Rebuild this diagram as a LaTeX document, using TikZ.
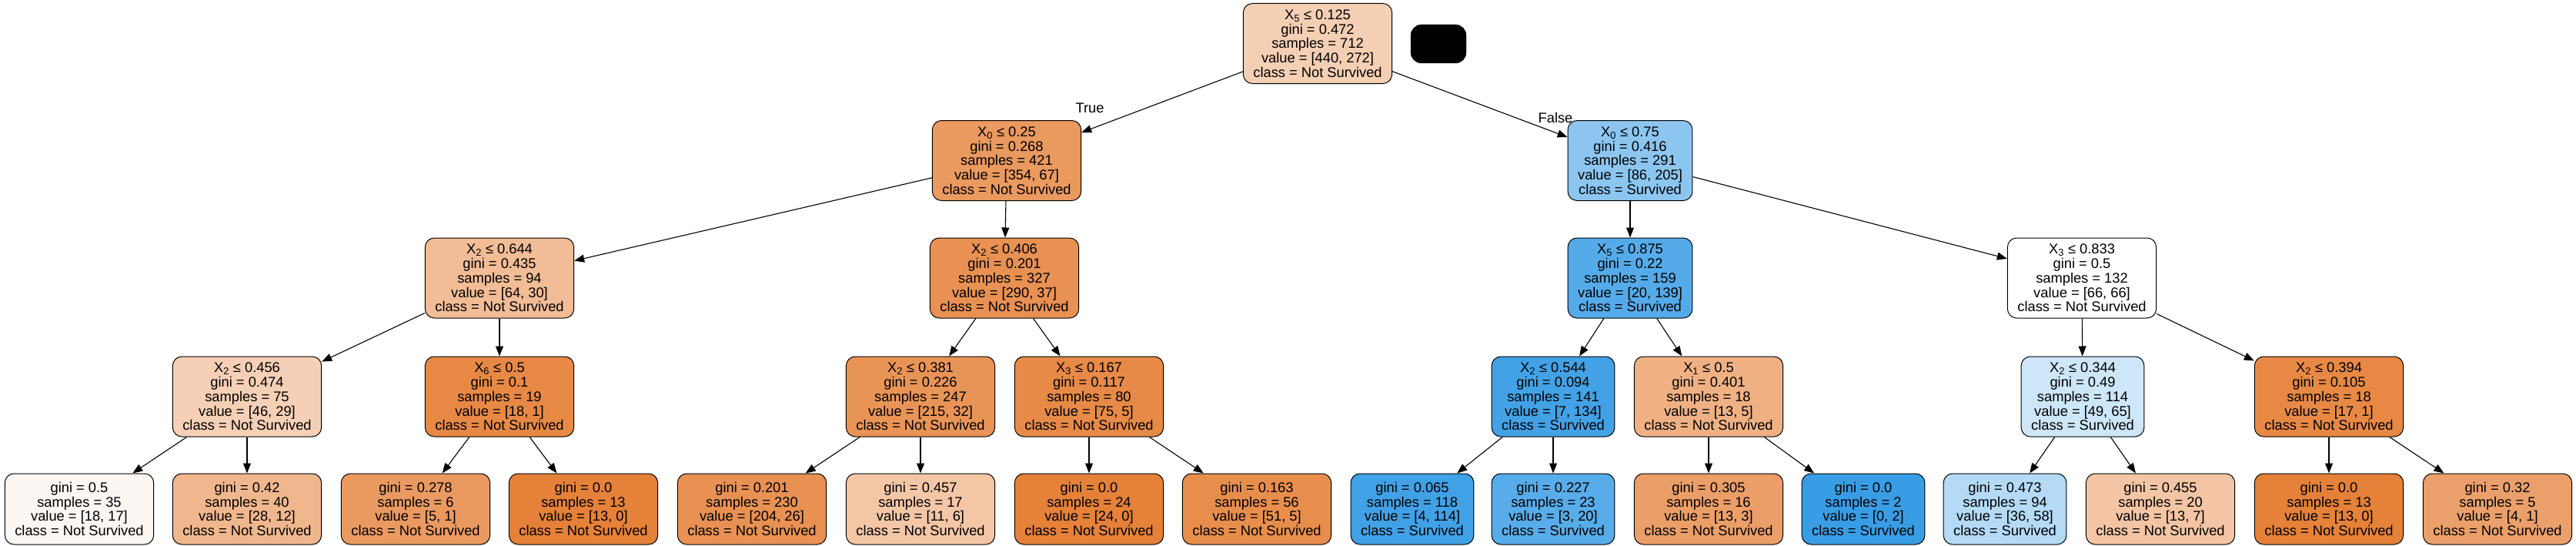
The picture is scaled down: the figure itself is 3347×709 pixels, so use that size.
\documentclass[tikz,border=0pt]{standalone}
\usepackage{fontspec}
\setmainfont{Liberation Sans}
\usetikzlibrary{arrows.meta}
\definecolor{ns}{RGB}{229,129,57}
\definecolor{sv}{RGB}{57,157,229}
\begin{document}
\begin{tikzpicture}[x=1pt,y=-1pt]
  \useasboundingbox (0,0) rectangle (3347,709);
  \tikzstyle{box}=[draw, line width=1pt, rounded corners=12pt, align=center,
                   inner xsep=13pt, inner ysep=0pt, minimum height=104pt,
                   font=\fontsize{18.3}{18.7}\selectfont]
  \tikzstyle{leaf}=[box, minimum height=92pt]
  \tikzstyle{EdgeStyle}=[line width=1.1pt, -{Triangle[length=13pt,width=10pt]}]
  \tikzstyle{LabelStyle}=[font=\fontsize{18.3}{18.7}\selectfont]
  % depth 0
  \node[box, fill=ns!38] (a) at (1712,56.5) {X\textsubscript{5} ≤ 0.125\\gini = 0.472\\samples = 712\\value = [440, 272]\\class = Not Survived};
  \node[draw, fill=black, rounded corners=14pt, minimum width=72pt, minimum height=50pt] (leg) at (1869,57) {};
  % depth 1
  \node[box, fill=ns!81] (b) at (1308,208.5) {X\textsubscript{0} ≤ 0.25\\gini = 0.268\\samples = 421\\value = [354, 67]\\class = Not Survived};
  \node[box, fill=sv!58] (c) at (2118,208.5) {X\textsubscript{0} ≤ 0.75\\gini = 0.416\\samples = 291\\value = [86, 205]\\class = Survived};
  % depth 2
  \node[box, fill=ns!53] (d) at (649,361) {X\textsubscript{2} ≤ 0.644\\gini = 0.435\\samples = 94\\value = [64, 30]\\class = Not Survived};
  \node[box, fill=ns!87] (e) at (1305,361) {X\textsubscript{2} ≤ 0.406\\gini = 0.201\\samples = 327\\value = [290, 37]\\class = Not Survived};
  \node[box, fill=sv!86] (f) at (2118,361) {X\textsubscript{5} ≤ 0.875\\gini = 0.22\\samples = 159\\value = [20, 139]\\class = Survived};
  \node[box, fill=white] (g) at (2705,361) {X\textsubscript{3} ≤ 0.833\\gini = 0.5\\samples = 132\\value = [66, 66]\\class = Not Survived};
  % depth 3
  \node[box, fill=ns!37] (h) at (321,515) {X\textsubscript{2} ≤ 0.456\\gini = 0.474\\samples = 75\\value = [46, 29]\\class = Not Survived};
  \node[box, fill=ns!94] (i) at (649,515) {X\textsubscript{6} ≤ 0.5\\gini = 0.1\\samples = 19\\value = [18, 1]\\class = Not Survived};
  \node[box, fill=ns!85] (j) at (1196,515) {X\textsubscript{2} ≤ 0.381\\gini = 0.226\\samples = 247\\value = [215, 32]\\class = Not Survived};
  \node[box, fill=ns!93] (k) at (1415,515) {X\textsubscript{3} ≤ 0.167\\gini = 0.117\\samples = 80\\value = [75, 5]\\class = Not Survived};
  \node[box, fill=sv!95] (l) at (2018,515) {X\textsubscript{2} ≤ 0.544\\gini = 0.094\\samples = 141\\value = [7, 134]\\class = Survived};
  \node[box, fill=ns!62] (m) at (2220,515) {X\textsubscript{1} ≤ 0.5\\gini = 0.401\\samples = 18\\value = [13, 5]\\class = Not Survived};
  \node[box, fill=sv!25] (n) at (2706,515) {X\textsubscript{2} ≤ 0.344\\gini = 0.49\\samples = 114\\value = [49, 65]\\class = Survived};
  \node[box, fill=ns!94] (o) at (3026,515) {X\textsubscript{2} ≤ 0.394\\gini = 0.105\\samples = 18\\value = [17, 1]\\class = Not Survived};
  % leaves
  \node[leaf, fill=ns!6]  (p) at (103,661)  {gini = 0.5\\samples = 35\\value = [18, 17]\\class = Not Survived};
  \node[leaf, fill=ns!57] (q) at (321,661)  {gini = 0.42\\samples = 40\\value = [28, 12]\\class = Not Survived};
  \node[leaf, fill=ns!80] (r) at (540,661)  {gini = 0.278\\samples = 6\\value = [5, 1]\\class = Not Survived};
  \node[leaf, fill=ns]    (s) at (758,661)  {gini = 0.0\\samples = 13\\value = [13, 0]\\class = Not Survived};
  \node[leaf, fill=ns!87] (t) at (977,661)  {gini = 0.201\\samples = 230\\value = [204, 26]\\class = Not Survived};
  \node[leaf, fill=ns!45] (u) at (1196,661) {gini = 0.457\\samples = 17\\value = [11, 6]\\class = Not Survived};
  \node[leaf, fill=ns]    (v) at (1415,661) {gini = 0.0\\samples = 24\\value = [24, 0]\\class = Not Survived};
  \node[leaf, fill=ns!90] (w) at (1633,661) {gini = 0.163\\samples = 56\\value = [51, 5]\\class = Not Survived};
  \node[leaf, fill=sv!96] (x) at (1835,661) {gini = 0.065\\samples = 118\\value = [4, 114]\\class = Survived};
  \node[leaf, fill=sv!85] (y) at (2018,661) {gini = 0.227\\samples = 23\\value = [3, 20]\\class = Survived};
  \node[leaf, fill=ns!77] (z) at (2220,661) {gini = 0.305\\samples = 16\\value = [13, 3]\\class = Not Survived};
  \node[leaf, fill=sv]    (A) at (2421,661) {gini = 0.0\\samples = 2\\value = [0, 2]\\class = Survived};
  \node[leaf, fill=sv!38] (B) at (2605,661) {gini = 0.473\\samples = 94\\value = [36, 58]\\class = Survived};
  \node[leaf, fill=ns!46] (C) at (2807,661) {gini = 0.455\\samples = 20\\value = [13, 7]\\class = Not Survived};
  \node[leaf, fill=ns]    (D) at (3026,661) {gini = 0.0\\samples = 13\\value = [13, 0]\\class = Not Survived};
  \node[leaf, fill=ns!75] (E) at (3245,661) {gini = 0.32\\samples = 5\\value = [4, 1]\\class = Not Survived};

  \draw[EdgeStyle] (a) -- (b);
  \draw[EdgeStyle] (a) -- (c);
  \draw[EdgeStyle] (b) -- (d);
  \draw[EdgeStyle] (b) -- (e);
  \draw[EdgeStyle] (c) -- (f);
  \draw[EdgeStyle] (c) -- (g);
  \draw[EdgeStyle] (d) -- (h);
  \draw[EdgeStyle] (d) -- (i);
  \draw[EdgeStyle] (e) -- (j);
  \draw[EdgeStyle] (e) -- (k);
  \draw[EdgeStyle] (f) -- (l);
  \draw[EdgeStyle] (f) -- (m);
  \draw[EdgeStyle] (g) -- (n);
  \draw[EdgeStyle] (g) -- (o);
  \draw[EdgeStyle] (h) -- (p);
  \draw[EdgeStyle] (h) -- (q);
  \draw[EdgeStyle] (i) -- (r);
  \draw[EdgeStyle] (i) -- (s);
  \draw[EdgeStyle] (j) -- (t);
  \draw[EdgeStyle] (j) -- (u);
  \draw[EdgeStyle] (k) -- (v);
  \draw[EdgeStyle] (k) -- (w);
  \draw[EdgeStyle] (l) -- (x);
  \draw[EdgeStyle] (l) -- (y);
  \draw[EdgeStyle] (m) -- (z);
  \draw[EdgeStyle] (m) -- (A);
  \draw[EdgeStyle] (n) -- (B);
  \draw[EdgeStyle] (n) -- (C);
  \draw[EdgeStyle] (o) -- (D);
  \draw[EdgeStyle] (o) -- (E);

  \node[LabelStyle] (tr) at (1416,140) {True};
  \node[LabelStyle] (fa) at (2021,153) {False};
\end{tikzpicture}
\end{document}
